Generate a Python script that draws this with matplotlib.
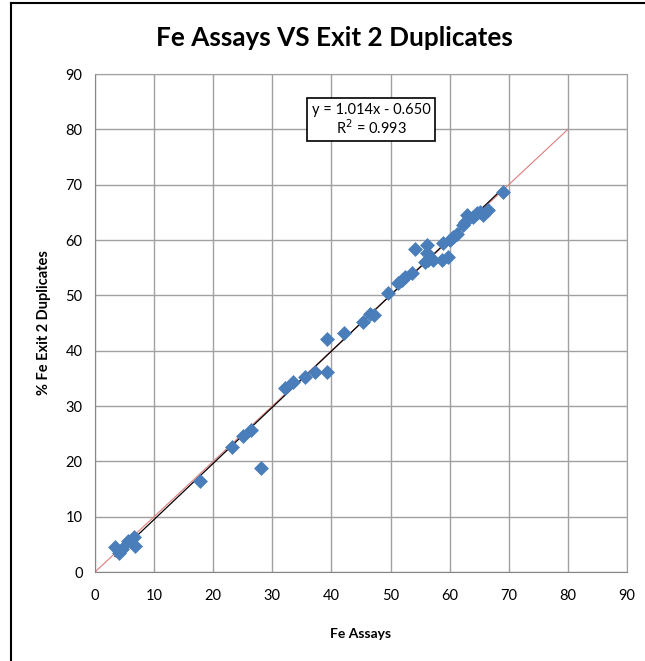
import matplotlib.pyplot as plt
import numpy as np
from matplotlib.lines import Line2D

# Fe assay vs exit 2 duplicate values
fe_assays = [3.4, 4.1, 4.6, 5.6, 6.6, 6.8, 17.8, 23.2, 25.0, 26.4, 28.1,
             32.1, 33.5, 35.5, 37.2, 39.3, 39.3, 42.1, 45.3, 46.5, 47.2,
             49.6, 51.3, 51.9, 52.5, 53.6, 54.1, 56.2, 56.2, 55.8, 56.4,
             57.2, 58.7, 59.7, 58.9, 60.1, 60.6, 61.3,
             62.3, 62.6, 62.9, 64.0, 64.6, 65.1, 65.7, 66.5, 69.0]
fe_dups = [4.5, 3.4, 4.2, 5.6, 6.3, 4.7, 16.5, 22.6, 24.6, 25.7, 18.8,
           33.3, 34.4, 35.3, 36.2, 36.2, 42.1, 43.2, 45.2, 46.7, 46.5,
           50.4, 52.2, 52.8, 53.3, 54.0, 58.4, 59.1, 57.7, 56.1, 56.4,
           56.4, 56.4, 57.0, 59.5, 60.0, 60.6, 61.0,
           62.7, 63.3, 64.6, 64.2, 64.9, 65.1, 64.6, 65.5, 68.7]

slope = 1.014
intercept = -0.650
r_squared = 0.993
one_to_one = [0, 80]
ticks = list(range(0, 100, 10))

plt.rcParams['font.family'] = ['Lato', 'DejaVu Sans']

fig = plt.figure(figsize=(6.45, 6.61), dpi=100)
ax = fig.add_axes([95 / 645, 89 / 661, 532 / 645, 498 / 661])

ax.set_xlim(0, 90)
ax.set_ylim(0, 90)
ax.set_xticks(ticks)
ax.set_yticks(ticks)
ax.tick_params(length=0, labelsize=10.5, pad=12)
ax.tick_params(axis='y', pad=9)
ax.grid(True, color='#a0a0a0', linewidth=1, zorder=0)
for side in ['top', 'right']:
    ax.spines[side].set_color('#a0a0a0')
for side in ['left', 'bottom']:
    ax.spines[side].set_color('#868686')

ax.plot(one_to_one, one_to_one, color='#e07c7c', linewidth=0.8, zorder=2)

xfit = np.array([min(fe_assays), max(fe_assays)])
ax.plot(xfit, slope * xfit + intercept, color='black', linewidth=0.9, zorder=2)

ax.scatter(fe_assays, fe_dups, marker='D', s=50, color='#4a7ebb',
           edgecolors='#4a7ebb', linewidths=0.5, zorder=3)

ax.text(46.7, 81.7, 'y = %.3fx - %.3f\nR$^2$ = %.3f' % (slope, -intercept, r_squared),
        ha='center', va='center', fontsize=10.5, linespacing=1.1,
        bbox=dict(boxstyle='square,pad=0.3', facecolor='white',
                  edgecolor='black', linewidth=1.2), zorder=4)

ax.set_xlabel('Fe Assays', fontsize=10, fontweight='bold', labelpad=18)
ax.set_ylabel('% Fe Exit 2 Duplicates', fontsize=10.5, fontweight='bold', labelpad=10)
fig.text(0.518, 1 - 38 / 661, 'Fe Assays VS Exit 2 Duplicates',
         ha='center', va='center', fontsize=18.8, fontweight='bold')

# chart border from the original screenshot
fig.add_artist(Line2D([11 / 645, 11 / 645], [0, 1 - 3 / 661], color='black',
                      linewidth=1.5, transform=fig.transFigure))
fig.add_artist(Line2D([11 / 645, 1], [1 - 3 / 661, 1 - 3 / 661], color='black',
                      linewidth=1.5, transform=fig.transFigure))

plt.savefig('out.png', dpi=100)
